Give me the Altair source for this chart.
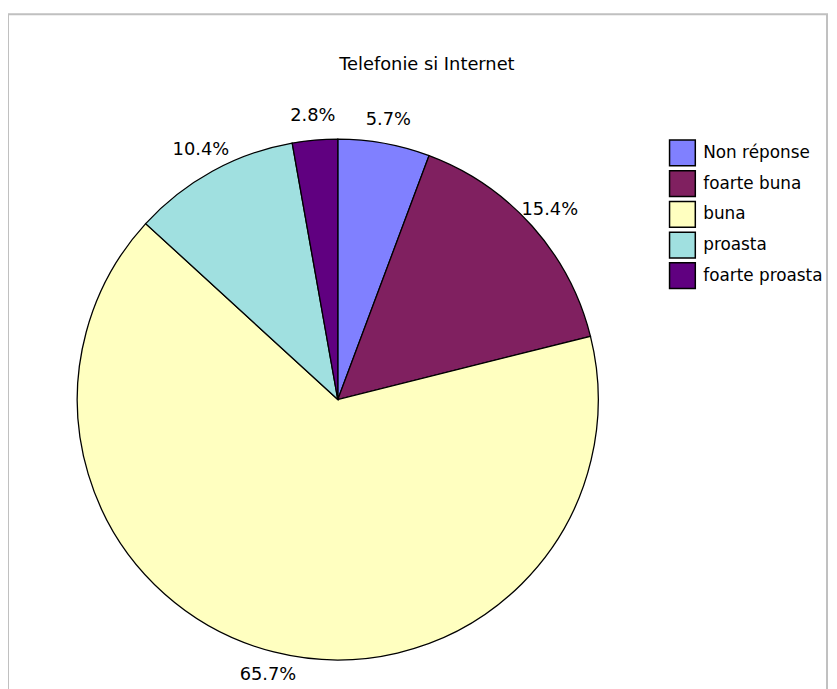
import altair as alt
import pandas as pd

title_text = "Telefonie si Internet"
categories = ["Non réponse", "foarte buna", "buna", "proasta", "foarte proasta"]
values = [5.7, 15.4, 65.7, 10.4, 2.8]
colors = ["#8080FF", "#802060", "#FFFFC0", "#A0E0E0", "#600080"]

df = pd.DataFrame({
    "cat": categories,
    "val": values,
    "ord": list(range(len(categories))),
    "label": [f"{v:.1f}%" for v in values],
})
title_df = pd.DataFrame({"t": [title_text]})

FONT = "DejaVu Sans"
CX, CY = 333, 392  # pie centre in view coords
R = 263

base = alt.Chart(df)

border = alt.Chart(title_df).mark_rect(
    fillOpacity=0, stroke="#c0c0c0", strokeWidth=2
).encode(
    x=alt.value(0), x2=alt.value(827), y=alt.value(3), y2=alt.value(720)
)

pie = base.mark_arc(outerRadius=R, stroke="black", strokeWidth=1.3).encode(
    theta=alt.Theta("val:Q", stack=True),
    order=alt.Order("ord:O"),
    color=alt.Color(
        "cat:N",
        scale=alt.Scale(domain=categories, range=colors),
        legend=alt.Legend(
            title=None,
            orient="none",
            legendX=667,
            legendY=129,
            padding=0,
            symbolType="square",
            symbolSize=676,
            symbolStrokeColor="black",
            symbolStrokeWidth=1.5,
            labelFont=FONT,
            labelFontSize=17,
            labelColor="black",
            labelOffset=7,
            rowPadding=-1,
            labelLimit=300,
        ),
    ),
    x=alt.value(CX),
    y=alt.value(CY),
)

labels = base.mark_text(
    radius=287, font=FONT, fontSize=18, color="black", align="center", baseline="middle"
).encode(
    theta=alt.Theta("val:Q", stack=True),
    order=alt.Order("ord:O"),
    text="label:N",
    x=alt.value(CX),
    y=alt.value(CY),
)

title = alt.Chart(title_df).mark_text(
    font=FONT, fontSize=18, color="black", align="center", baseline="alphabetic"
).encode(
    x=alt.value(423), y=alt.value(59), text="t:N"
)

chart = alt.layer(border, pie, labels, title).properties(
    width=829, height=681, autosize=alt.AutoSizeParams(type="none"), padding=0
).configure_view(strokeWidth=0)

chart.save("out.html", embed_options={"renderer": "svg", "actions": False})
